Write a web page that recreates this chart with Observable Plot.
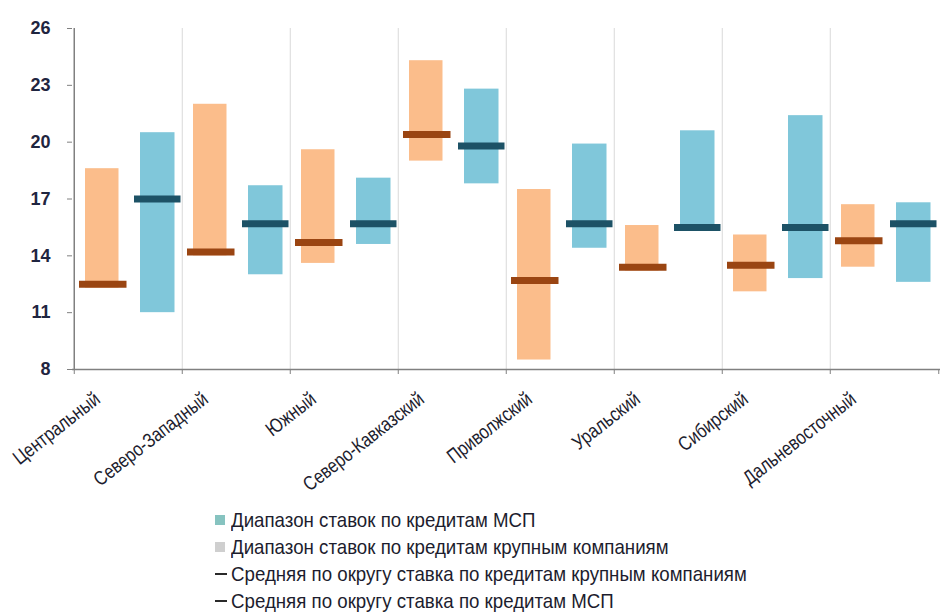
<!DOCTYPE html>
<html><head><meta charset="utf-8">
<script src="https://cdn.jsdelivr.net/npm/d3@7"></script>
<script src="https://cdn.jsdelivr.net/npm/@observablehq/plot@0.6"></script>
<style>
body{margin:0;background:#fff;}
#chart svg{display:block;overflow:visible;}
#legend{margin-left:215px;font-family:"Liberation Sans",Arial,sans-serif;font-size:21px;color:#1d1d2e;line-height:27px;}
#legend .row{display:flex;align-items:center;white-space:nowrap;height:27px;}
#legend .sw{display:inline-block;width:10px;height:10px;margin-right:6px;flex:none;}
#legend .dash{display:inline-block;width:12px;height:2px;background:#222;margin-right:4px;flex:none;}
#legend .txt{display:inline-block;transform:scaleX(0.89);transform-origin:0 50%;}
</style></head><body>
<div id="chart"></div>
<div id="legend"></div>
<script>
const regions = ["Центральный","Северо-Западный","Южный","Северо-Кавказский","Приволжский","Уральский","Сибирский","Дальневосточный"];
const largeLow  = [12.3, 14.0, 13.6, 19.0, 8.5, 13.2, 12.1, 13.4];
const largeHigh = [18.6, 22.0, 19.6, 24.3, 17.5, 15.6, 15.1, 16.7];
const largeMean = [12.5, 14.2, 14.7, 20.4, 12.7, 13.4, 13.5, 14.8];
const smeLow    = [11.0, 13.0, 14.6, 17.8, 14.4, 15.3, 12.8, 12.6];
const smeHigh   = [20.5, 17.7, 18.1, 22.8, 19.9, 20.6, 21.4, 16.8];
const smeMean   = [17.0, 15.7, 15.7, 19.8, 15.7, 15.5, 15.5, 15.7];
const yTicks = [8, 11, 14, 17, 20, 23, 26];
const legendItems = [
  {label:"Диапазон ставок по кредитам МСП", kind:"sw", color:"#86c3c0"},
  {label:"Диапазон ставок по кредитам крупным компаниям", kind:"sw", color:"#cfcfcf"},
  {label:"Средняя по округу ставка по кредитам крупным компаниям", kind:"dash", color:"#2a2a2a"},
  {label:"Средняя по округу ставка по кредитам МСП", kind:"dash", color:"#2a2a2a"}
];

const W = 945, H = 506, ML = 72, MR = 5, MT = 28, MB = H - 369;
const bw = (W - ML - MR) / regions.length;
const data = regions.map((r, i) => ({
  region: r, lLo: largeLow[i], lHi: largeHigh[i], lMean: largeMean[i],
  sLo: smeLow[i], sHi: smeHigh[i], sMean: smeMean[i]
}));
const font = '"Liberation Sans",Arial,sans-serif';

const chart = Plot.plot({
  width: W, height: H,
  marginLeft: ML, marginRight: MR, marginTop: MT, marginBottom: MB,
  x: {type: "band", domain: regions, padding: 0, label: null},
  y: {domain: [8, 26], label: null},
  style: {fontFamily: font, background: "transparent", color: "#1d1d2e", overflow: "visible"},
  marks: [
    Plot.ruleX(regions.slice(1), {dx: -bw / 2, y1: 8, y2: 26, stroke: "#d9d9d9"}),
    Plot.ruleX(regions, {dx: -bw / 2, y1: 8, y2: 8, insetBottom: -5, stroke: "#808080"}),
    Plot.ruleX([regions[regions.length - 1]], {dx: bw / 2, y1: 8, y2: 8, insetBottom: -5, stroke: "#808080"}),
    Plot.barY(data, {x: "region", y1: "lLo", y2: "lHi", fill: "#fbbd8b", insetLeft: 11, insetRight: bw - 45}),
    Plot.barY(data, {x: "region", y1: "sLo", y2: "sHi", fill: "#80c7da", insetLeft: 66, insetRight: bw - 101}),
    Plot.tickY(data, {x: "region", y: "lMean", stroke: "#9a4512", strokeWidth: 7, insetLeft: 5, insetRight: bw - 53}),
    Plot.tickY(data, {x: "region", y: "sMean", stroke: "#1d5266", strokeWidth: 7, insetLeft: 60, insetRight: bw - 107}),
    Plot.ruleY([8], {stroke: "#808080", strokeWidth: 1.5}),
    Plot.ruleX([regions[0]], {dx: -bw / 2, y1: 8, y2: 26, stroke: "#808080", strokeWidth: 1.5}),
    Plot.axisY({ticks: yTicks, tickSize: 5, tickPadding: 17, fontSize: 18, fontWeight: "bold", stroke: "#808080", fill: "#1f2540"}),
    Plot.axisX({tickSize: 0, tickRotate: -38, dx: -31, tickPadding: 27, fontSize: 20, fill: "#1d1d2e"})
  ]
});
// narrow the rotated category labels (Arial Narrow look)
d3.select(chart).selectAll('g[aria-label="x-axis tick label"] text')
  .attr("transform", function() { return (this.getAttribute("transform") || "") + " scale(0.82,1)"; });
document.getElementById("chart").appendChild(chart);

const leg = document.getElementById("legend");
legendItems.forEach(it => {
  const row = document.createElement("div");
  row.className = "row";
  const m = document.createElement("span");
  m.className = it.kind;
  m.style.background = it.color;
  row.appendChild(m);
  const t = document.createElement("span");
  t.className = "txt";
  t.textContent = it.label;
  row.appendChild(t);
  leg.appendChild(row);
});
</script>
</body></html>
